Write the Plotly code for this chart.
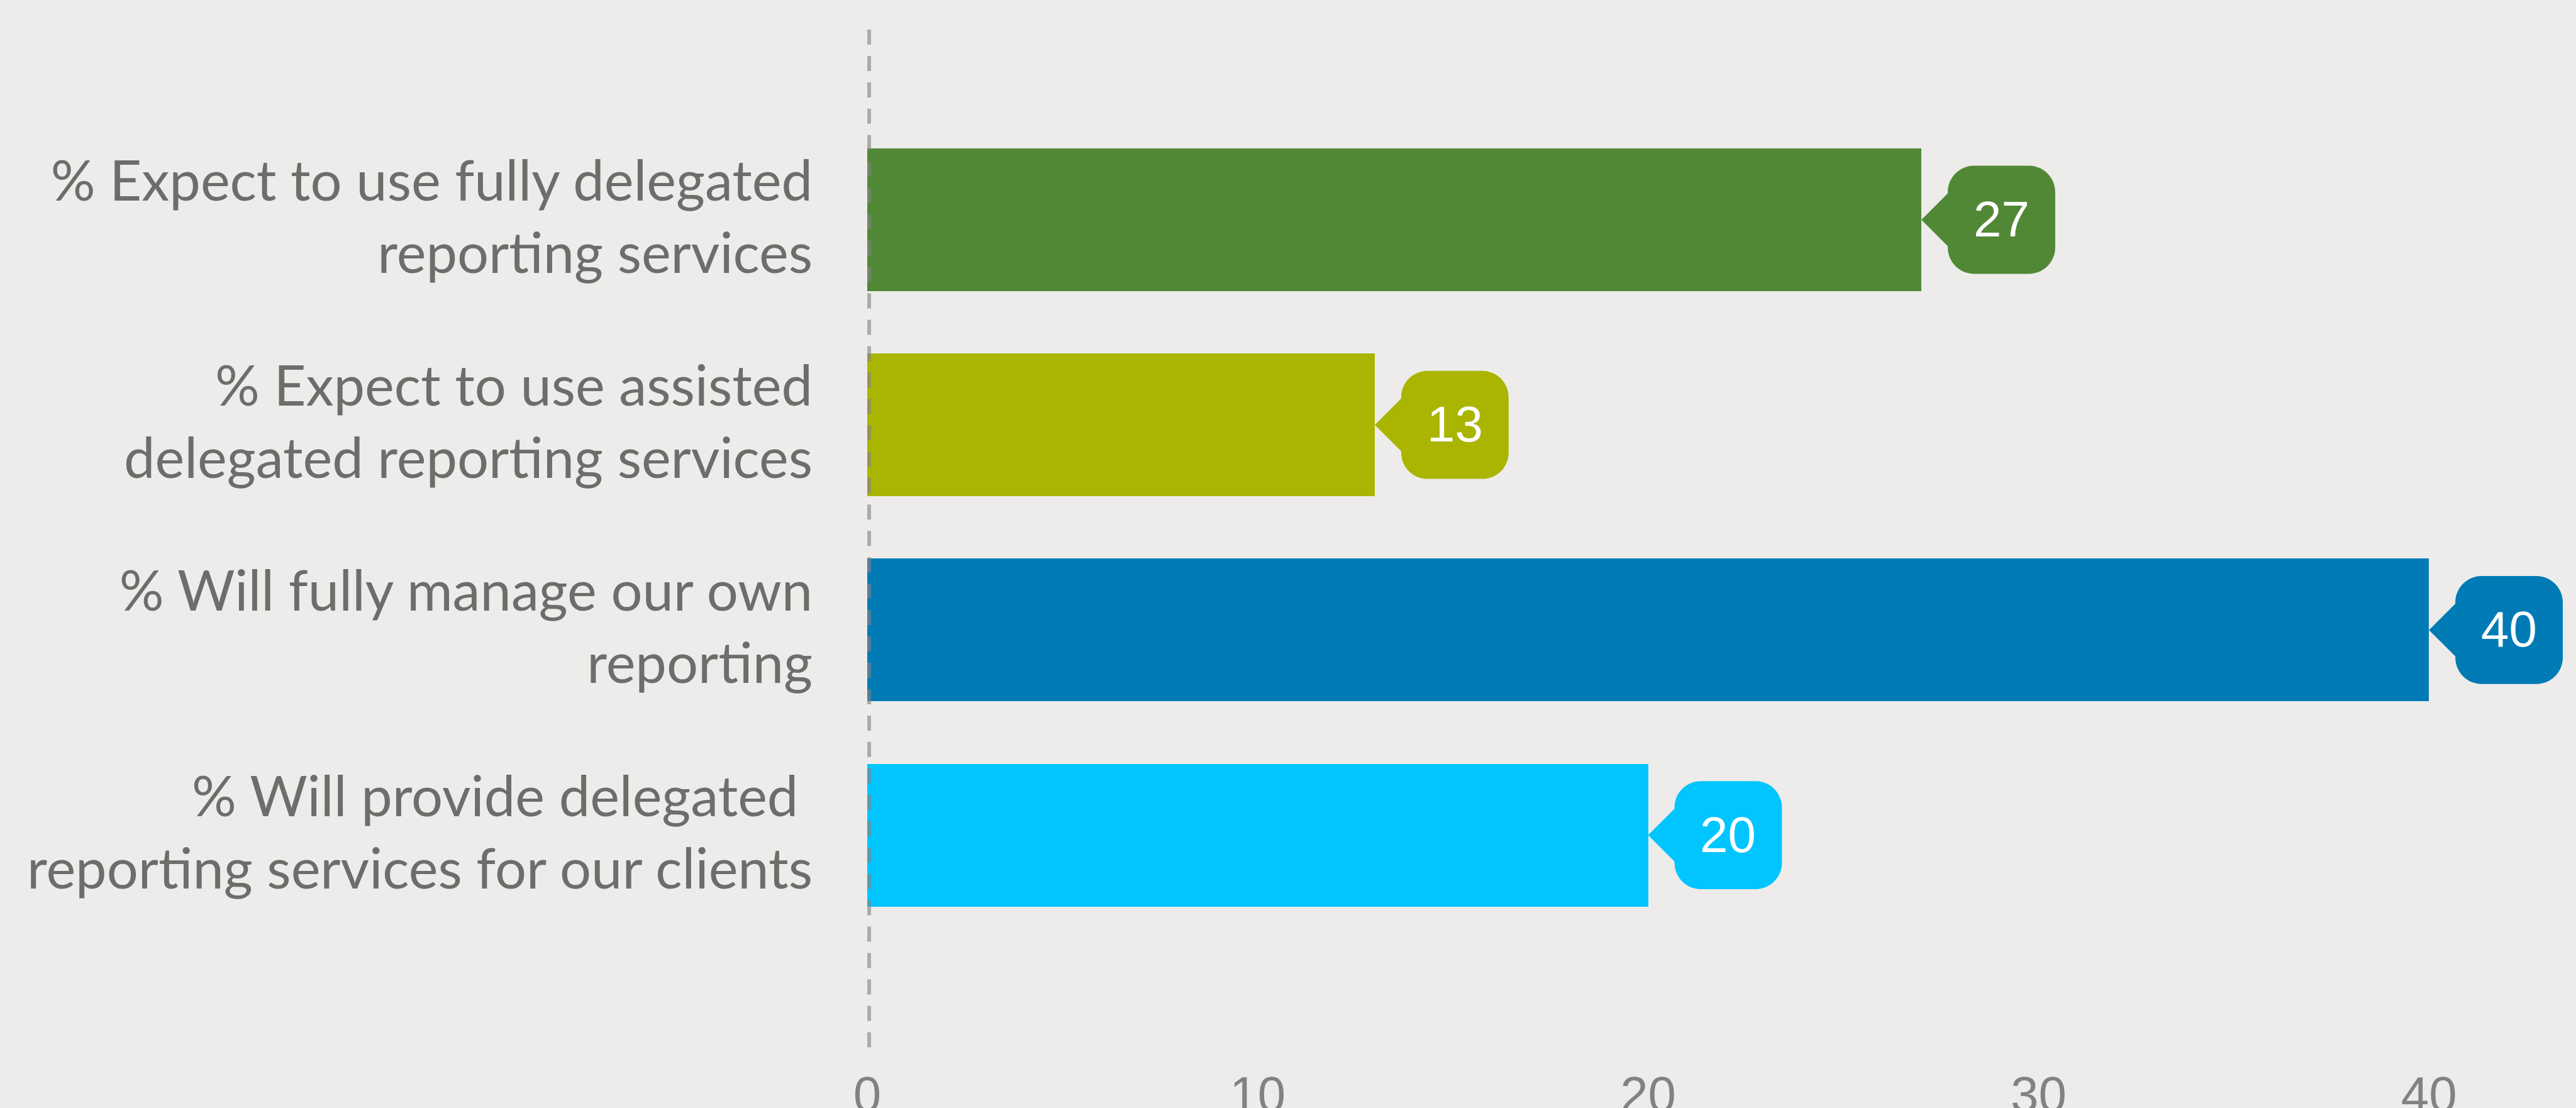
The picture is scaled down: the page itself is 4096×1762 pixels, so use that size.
import plotly.graph_objects as go

# ---- data ----
categories = [
    "% Expect to use fully delegated<br>reporting services",
    "% Expect to use assisted<br>delegated reporting services",
    "% Will fully manage our own<br>reporting",
    "% Will provide delegated\u00a0<br>reporting services for our clients",
]
values = [27, 13, 40, 20]
bar_colors = ["#518836", "#A9B500", "#007BB6", "#00C5FF"]
x_ticks = [0, 10, 20, 30, 40]

# ---- layout geometry (reference pixels, scaled) ----
S = 0.999
W, H = 4096, 1762
REF_W, REF_H = 4097, 1762
plot_left, plot_top, plot_bottom, plot_right = 1380, 47, 1670, 4093
px_per_unit = 62.08
cat_step = 326.2
first_center = 349.5

positions = list(range(len(categories)))
x_max = (plot_right - plot_left) / px_per_unit
y_top = -(first_center - plot_top) / cat_step
y_bot = (len(categories) - 1) + (plot_bottom - (first_center + cat_step * (len(categories) - 1))) / cat_step

fig = go.Figure()
fig.add_trace(go.Bar(
    x=values, y=positions, orientation="h",
    marker=dict(color=bar_colors, line=dict(width=0)),
    width=227 / cat_step,
    hoverinfo="skip",
))

# callout path (pixels relative to bar end, y up)
def callout_path(s):
    r = 42 * s
    k = 0.5523 * r
    x0, x1 = 42 * s, 213 * s
    y0, y1 = -86 * s, 86 * s
    pb = 42 * s
    pts = [
        f"M0,0",
        f"L{x0},{pb}",
        f"L{x0},{y1 - r}",
        f"C{x0},{y1 - r + k} {x0 + r - k},{y1} {x0 + r},{y1}",
        f"L{x1 - r},{y1}",
        f"C{x1 - r + k},{y1} {x1},{y1 - r + k} {x1},{y1 - r}",
        f"L{x1},{y0 + r}",
        f"C{x1},{y0 + r - k} {x1 - r + k},{y0} {x1 - r},{y0}",
        f"L{x0 + r},{y0}",
        f"C{x0 + r - k},{y0} {x0},{y0 + r - k} {x0},{y0 + r}",
        f"L{x0},{-pb}",
        "Z",
    ]
    return " ".join(pts)

shapes = []
annotations = []
for v, p, c in zip(values, positions, bar_colors):
    shapes.append(dict(
        type="path", xref="x", yref="y",
        xsizemode="pixel", ysizemode="pixel",
        xanchor=v, yanchor=p,
        path=callout_path(S),
        fillcolor=c, line=dict(width=0), layer="above",
    ))
    annotations.append(dict(
        x=v, y=p, xref="x", yref="y", text=str(v), showarrow=False,
        xshift=127.5 * S, yshift=1 * S,
        font=dict(family="Liberation Sans, Arial", size=80 * S, color="white"),
        xanchor="center", yanchor="middle",
    ))

# dashed zero line
shapes.append(dict(
    type="line", xref="x", yref="paper",
    xsizemode="pixel", xanchor=0, x0=3 * S, x1=3 * S,
    y0=1, y1=0,
    line=dict(color="rgba(131,131,131,0.62)", width=6 * S, dash=f"{24*S}px,{18*S}px"),
    layer="above",
))

fig.update_layout(
    width=W, height=H,
    paper_bgcolor="#EDECEA", plot_bgcolor="#EDECEA",
    margin=dict(l=plot_left * S, r=(REF_W - plot_right) * S, t=plot_top * S, b=(REF_H - plot_bottom) * S, pad=0),
    showlegend=False,
    bargap=0,
    shapes=shapes,
    annotations=annotations,
    xaxis=dict(
        range=[0, x_max], tickvals=x_ticks, ticktext=[str(t) for t in x_ticks],
        showgrid=False, zeroline=False, showline=False, ticks="",
        tickfont=dict(family="Liberation Sans, Arial", size=80 * S, color="#808283"),
        ticklabelstandoff=17,
        automargin=False,
    ),
    yaxis=dict(
        range=[y_bot, y_top], tickvals=positions, ticktext=categories,
        showgrid=False, zeroline=False, showline=False, ticks="",
        tickfont=dict(family="Lato", size=88.5 * S, color="#6C6E6B"),
        ticklabelstandoff=86,
        ticklabelshift=4,
        automargin=False,
    ),
)

fig.write_html("out.html")
